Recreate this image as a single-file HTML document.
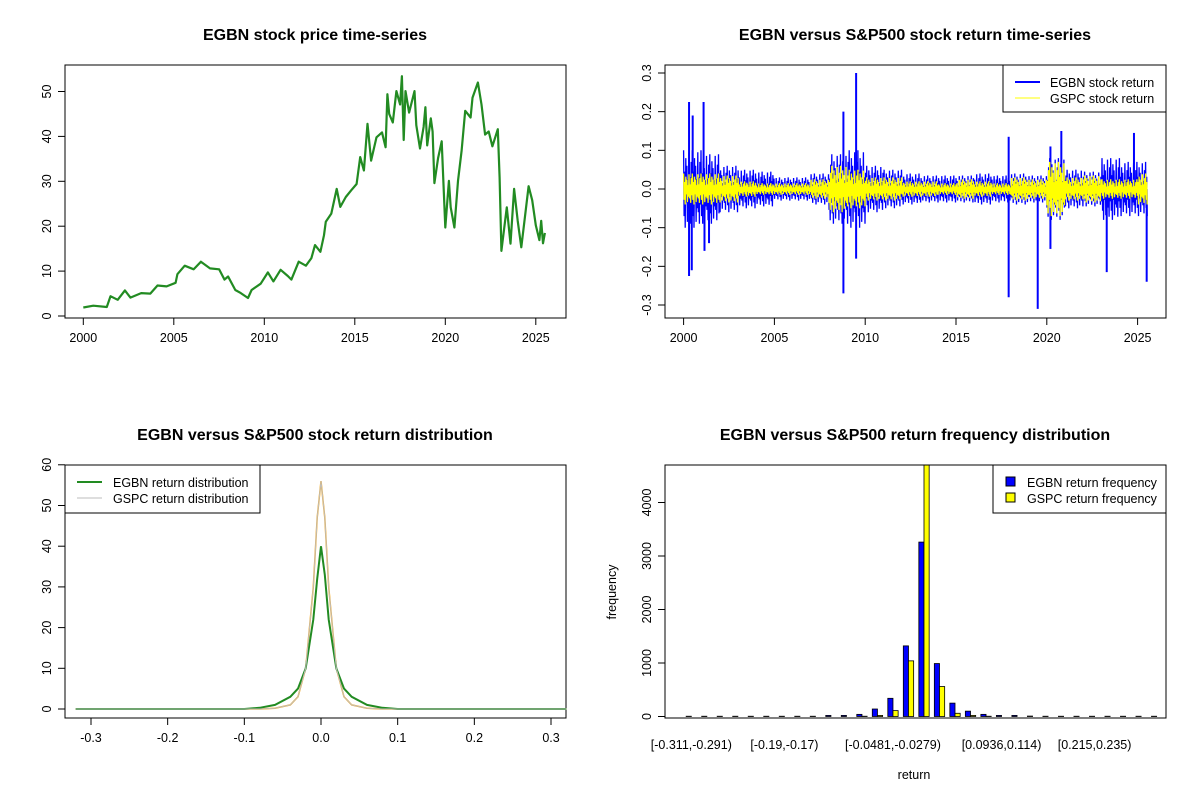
<!DOCTYPE html>
<html><head><meta charset="utf-8"><style>
body{margin:0;background:#fff}
svg{display:block;font-family:"Liberation Sans",Arial,sans-serif}
.t{font-weight:bold;font-size:16px;text-anchor:middle}
.k{font-size:12.5px}
</style></head><body>
<svg id="s" width="1200" height="800" viewBox="0 0 1200 800">
<rect width="1200" height="800" fill="#fff"/>
<text class="t" x="315" y="40">EGBN stock price time-series</text>
<text class="t" x="915" y="40">EGBN versus S&amp;P500 stock return time-series</text>
<text class="t" x="315" y="440">EGBN versus S&amp;P500 stock return distribution</text>
<text class="t" x="915" y="440">EGBN versus S&amp;P500 return frequency distribution</text>
<g id="p1"></g>
<g id="p2"></g>
<g id="p3"></g>
<g id="p4"></g>
</svg>
<script>
// ---- data ----
const priceYears=[2000.0,2000.55,2001.3,2001.5,2001.9,2002.3,2002.6,2003.2,2003.7,2004.1,2004.6,2005.1,2005.2,2005.6,2006.1,2006.5,2007.0,2007.5,2007.8,2008.0,2008.4,2008.7,2009.1,2009.3,2009.8,2010.2,2010.5,2010.9,2011.3,2011.5,2011.9,2012.3,2012.6,2012.8,2013.1,2013.3,2013.4,2013.7,2014.0,2014.2,2014.5,2014.8,2015.1,2015.3,2015.5,2015.7,2015.9,2016.2,2016.5,2016.7,2016.8,2016.9,2017.1,2017.3,2017.5,2017.6,2017.7,2017.8,2018.0,2018.3,2018.4,2018.6,2018.8,2018.9,2019.0,2019.2,2019.3,2019.4,2019.6,2019.8,2019.9,2020.0,2020.2,2020.3,2020.5,2020.7,2020.9,2021.1,2021.4,2021.5,2021.8,2022.0,2022.2,2022.4,2022.6,2022.9,2023.0,2023.1,2023.4,2023.6,2023.8,2024.0,2024.2,2024.4,2024.6,2024.8,2025.0,2025.2,2025.3,2025.4,2025.5];
const priceValues=[1.9,2.3,2.0,4.4,3.6,5.7,4.1,5.1,5.0,6.8,6.6,7.4,9.3,11.2,10.4,12.1,10.6,10.4,8.1,8.8,5.8,5.1,4.0,5.8,7.2,9.7,7.7,10.3,8.9,8.1,12.1,11.2,12.9,15.8,14.3,18.0,21.0,22.8,28.3,24.3,26.5,28.0,29.4,35.4,32.4,42.8,34.6,39.8,40.9,37.6,49.4,45.0,43.1,50.1,47.1,53.4,39.2,50.1,45.3,50.1,42.5,37.3,42.1,46.5,38.0,44.0,41.1,29.6,35.2,38.9,29.3,19.7,30.1,24.2,19.7,30.1,36.8,45.7,44.2,48.6,52.0,47.1,40.4,41.1,37.8,41.6,30.9,14.5,24.2,16.1,28.3,21.2,15.3,22.0,28.9,25.8,20.2,16.9,21.2,16.2,18.5];
const priceTicksX=[2000,2005,2010,2015,2020,2025];
const priceTicksY=[0,10,20,30,40,50];

const volYears=[2000,2001,2002,2003,2004,2005,2006,2007,2008,2009,2010,2011,2012,2013,2014,2015,2016,2017,2018,2019,2020,2021,2022,2023,2024,2025];
const egbnVol=[0.10,0.09,0.06,0.05,0.045,0.03,0.03,0.04,0.09,0.10,0.06,0.05,0.04,0.035,0.035,0.035,0.04,0.035,0.04,0.035,0.08,0.05,0.045,0.08,0.07,0.07];
const gspcVol=[0.04,0.04,0.035,0.02,0.015,0.015,0.015,0.025,0.06,0.05,0.03,0.03,0.02,0.02,0.015,0.025,0.02,0.015,0.03,0.025,0.07,0.03,0.035,0.025,0.025,0.04];
const spikeYears=[2000.3,2000.3,2000.5,2000.45,2001.1,2001.15,2001.4,2008.8,2008.8,2009.5,2009.5,2017.9,2017.9,2019.5,2020.2,2020.2,2020.8,2023.3,2024.8,2025.5];
const spikeValues=[0.225,-0.225,0.19,-0.21,0.225,-0.16,-0.14,0.2,-0.27,0.3,-0.18,0.135,-0.28,-0.31,0.11,-0.155,0.15,-0.215,0.145,-0.24];
const zigPattern=[1,-0.7,0.45,-1,0.8,-0.35,0.6,-0.85,0.25,-0.5,0.95,-0.6,0.3,-0.9,0.7,-0.4];
const retTicksY=[-0.3,-0.2,-0.1,0.0,0.1,0.2,0.3];

const densX=[-0.32,-0.1,-0.08,-0.06,-0.04,-0.03,-0.02,-0.01,-0.005,0,0.005,0.01,0.02,0.03,0.04,0.06,0.08,0.1,0.32];
const egbnDens=[0,0,0.3,1,3,5,10,22,32,40,33,22,10,5,3,1,0.3,0,0];
const gspcDens=[0,0,0,0.2,1,3,10,30,47,56,47,30,10,3,1,0.2,0,0,0];
const densTicksX=[-0.3,-0.2,-0.1,0.0,0.1,0.2,0.3];
const densTicksY=[0,10,20,30,40,50,60];

const egbnFreq=[5,5,5,5,5,5,5,5,5,20,20,40,140,340,1320,3260,990,250,100,40,20,20,8,5,5,5,5,5,5,5,5];
const gspcFreq=[0,0,0,0,0,0,0,0,0,0,0,5,20,110,1040,4800,560,60,20,5,0,0,0,0,0,0,0,0,0,0,0];
const binLabels=["[-0.311,-0.291)","[-0.19,-0.17)","[-0.0481,-0.0279)","[0.0936,0.114)","[0.215,0.235)"];
const binLabelIdx=[0,6,13,20,26];
const freqTicksY=[0,1000,2000,3000,4000];

// ---- helpers ----
const NS="http://www.w3.org/2000/svg";
function mk(par,tag,attrs,txt){const e=document.createElementNS(NS,tag);for(const k in attrs)e.setAttribute(k,attrs[k]);if(txt!==undefined)e.textContent=txt;par.appendChild(e);return e;}
function box(g,x0,y0,x1,y1){const r=mk(g,'rect',{x:x0,y:y0,width:x1-x0,height:y1-y0,fill:'none',stroke:'#000','stroke-width':1});

}
function xTicks(g,vals,fx,yb,fmt){vals.forEach(v=>{const x=fx(v);mk(g,'line',{x1:x,x2:x,y1:yb,y2:yb+7,stroke:'#000'});
const t=mk(g,'text',{x:x,y:yb+24,'text-anchor':'middle',class:'k'},fmt(v));

});
mk(g,'line',{x1:fx(vals[0]),x2:fx(vals[vals.length-1]),y1:yb,y2:yb,stroke:'#000'});}
function yTicks(g,vals,fy,xl,fmt){vals.forEach(v=>{const y=fy(v);mk(g,'line',{x1:xl,x2:xl-7,y1:y,y2:y,stroke:'#000'});
const t=mk(g,'text',{x:xl-14,y:y,'text-anchor':'middle',class:'k',transform:`rotate(-90 ${xl-14} ${y})`},fmt(v));

});
mk(g,'line',{x1:xl,x2:xl,y1:fy(vals[0]),y2:fy(vals[vals.length-1]),stroke:'#000'});}

// ---- panel 1 ----
(function(){const g=document.getElementById('p1');
const fx=y=>83.3+(y-2000)*18.1, fy=v=>316-v*4.49;
box(g,65,65,566,318);
let d=priceYears.map((y,i)=>(i?'L':'M')+fx(y).toFixed(1)+' '+fy(priceValues[i]).toFixed(1)).join(' ');
const p=mk(g,'path',{d:d,fill:'none',stroke:'#228B22','stroke-width':2.2,'stroke-linejoin':'round'});


xTicks(g,priceTicksX,fx,318,v=>v);yTicks(g,priceTicksY,fy,65,v=>v);})();

// ---- panel 2 ----
(function(){const g=document.getElementById('p2');
const fx=y=>683.6+(y-2000)*18.16, fy=v=>189-v*386.7;
box(g,665,65,1166,318);
function zig(vol,color,w,name){let d='';let k=0;
for(let y=2000;y<=2025.55;y+=0.03){const i=Math.min(volYears.length-1,Math.floor(y-2000));const v=vol[i]*zigPattern[k%zigPattern.length];d+=(k?'L':'M')+fx(y).toFixed(1)+' '+fy(v).toFixed(1);k++;}
const p=mk(g,'path',{d:d,fill:'none',stroke:color,'stroke-width':w});

}
zig(egbnVol,'#0000FF',1.3,'egbn-return-line');
spikeYears.forEach((y,i)=>{const l=mk(g,'line',{x1:fx(y),x2:fx(y),y1:fy(0),y2:fy(spikeValues[i]),stroke:'#0000FF','stroke-width':2});

});
zig(gspcVol,'#FFFF00',1.3,'gspc-return-line');
xTicks(g,priceTicksX,fx,318,v=>v);yTicks(g,retTicksY,fy,665,v=>v.toFixed(1));
const lg=mk(g,'g',{});


mk(lg,'rect',{x:1003,y:65,width:163,height:47,fill:'#fff',stroke:'#000'});
mk(lg,'line',{x1:1015,x2:1040,y1:82,y2:82,stroke:'#0000FF','stroke-width':2});
mk(lg,'line',{x1:1015,x2:1040,y1:98,y2:98,stroke:'#FFFF00','stroke-width':1});
mk(lg,'text',{x:1050,y:87,class:'k'},'EGBN stock return');
mk(lg,'text',{x:1050,y:103,class:'k'},'GSPC stock return');})();

// ---- panel 3 ----
(function(){const g=document.getElementById('p3');
const fx=v=>321+v*766.7, fy=v=>709-v*4.07;
box(g,65,465,566,718);
function ln(vals,color,w,name){const d=densX.map((x,i)=>(i?'L':'M')+fx(x).toFixed(1)+' '+fy(vals[i]).toFixed(1)).join(' ');
const p=mk(g,'path',{d:d,fill:'none',stroke:color,'stroke-width':w});

}
ln(gspcDens,'#FFA500',1.5,'gspc-density-orange');
ln(egbnDens,'#228B22',2,'egbn-density-line');
ln(gspcDens,'#BEBEBE',1,'gspc-density-line');
xTicks(g,densTicksX,fx,718,v=>v.toFixed(1));yTicks(g,densTicksY,fy,65,v=>v);
const lg=mk(g,'g',{});


mk(lg,'rect',{x:65,y:465,width:195,height:48,fill:'#fff',stroke:'#000'});
mk(lg,'line',{x1:77,x2:102,y1:482,y2:482,stroke:'#228B22','stroke-width':2});
mk(lg,'line',{x1:77,x2:102,y1:498,y2:498,stroke:'#BEBEBE','stroke-width':1});
mk(lg,'text',{x:113,y:487,class:'k'},'EGBN return distribution');
mk(lg,'text',{x:113,y:503,class:'k'},'GSPC return distribution');})();

// ---- panel 4 ----
(function(){const g=document.getElementById('p4');
const w=5.17,x0=681, fy=v=>716.5-v*0.0535;
const clipId='c4';const defs=mk(g,'defs',{});const cp=mk(defs,'clipPath',{id:clipId});mk(cp,'rect',{x:665,y:465,width:501,height:253});
const bars=mk(g,'g',{'clip-path':'url(#c4)'});
egbnFreq.forEach((v,i)=>{const x=x0+(3*i+1)*w;const r=mk(bars,'rect',{x:x,y:fy(v),width:w,height:fy(0)-fy(v),fill:'#0000FF',stroke:'#000','stroke-width':0.8});

});
gspcFreq.forEach((v,i)=>{const x=x0+(3*i+2)*w;const r=mk(bars,'rect',{x:x,y:fy(v),width:w,height:fy(0)-fy(v),fill:'#FFFF00',stroke:'#000','stroke-width':0.8});

});
box(g,665,465,1166,718);
yTicks(g,freqTicksY,fy,665,v=>v);
binLabelIdx.forEach((b,i)=>{const t=mk(g,'text',{x:x0+(3*b+2)*w,y:749,'text-anchor':'middle',class:'k'},binLabels[i]);

});
const xl=mk(g,'text',{x:914,y:779,'text-anchor':'middle',class:'k','font-size':'12px'},'return');


const yl=mk(g,'text',{x:616,y:592,'text-anchor':'middle',class:'k',transform:'rotate(-90 616 592)'},'frequency');


const lg=mk(g,'g',{});


mk(lg,'rect',{x:993,y:465,width:173,height:48,fill:'#fff',stroke:'#000'});
mk(lg,'rect',{x:1006,y:477,width:9,height:9,fill:'#0000FF',stroke:'#000'});
mk(lg,'rect',{x:1006,y:493,width:9,height:9,fill:'#FFFF00',stroke:'#000'});
mk(lg,'text',{x:1027,y:487,class:'k'},'EGBN return frequency');
mk(lg,'text',{x:1027,y:503,class:'k'},'GSPC return frequency');})();
</script>
</body></html>
